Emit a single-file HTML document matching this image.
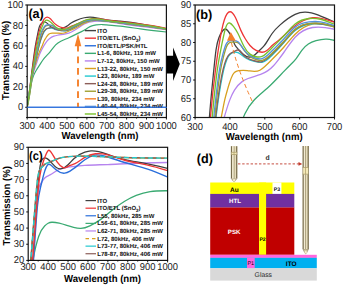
<!DOCTYPE html>
<html><head><meta charset="utf-8"><style>
html,body{margin:0;padding:0;background:#fff;}
body{width:343px;height:285px;overflow:hidden;position:relative;font-family:"Liberation Sans", sans-serif;}
</style></head><body>
<svg width="343" height="285" viewBox="0 0 343 285" style="position:absolute;left:0;top:0" text-rendering="geometricPrecision" font-family='"Liberation Sans", sans-serif'>
<rect width="343" height="285" fill="#fff"/>
<defs>
<clipPath id="ca"><rect x="27.20" y="5.00" width="139.20" height="112.50"/></clipPath>
<clipPath id="cb"><rect x="195.10" y="5.00" width="139.40" height="112.50"/></clipPath>
<clipPath id="cc"><rect x="28.20" y="147.30" width="139.40" height="113.10"/></clipPath>
<linearGradient id="pg" x1="0" x2="1" y1="0" y2="0"><stop offset="0" stop-color="#7a6e4e"/><stop offset="0.25" stop-color="#d8ccA0"/><stop offset="0.45" stop-color="#f4ecd0"/><stop offset="0.55" stop-color="#8a7e5c"/><stop offset="0.7" stop-color="#efe6c8"/><stop offset="1" stop-color="#7a6e4e"/></linearGradient>
</defs>
<g clip-path="url(#ca)">
<path d="M27.20 107.27 H166.40" fill="none" stroke="#2a6edb" stroke-width="1.20" stroke-linejoin="round" stroke-linecap="round" />
<path d="M27.20 106.25 C27.86 102.11 28.53 97.98 29.19 92.95 C29.85 87.93 30.51 82.02 31.18 76.59 C31.84 71.16 32.50 66.20 33.17 61.25 C33.89 55.80 34.62 50.37 35.35 45.91 C36.19 40.76 37.04 36.92 37.88 32.92 C38.30 30.94 38.71 28.91 39.13 27.50 C39.66 25.70 40.19 24.89 40.72 24.23 C41.39 23.40 42.05 22.82 42.71 22.39 C43.24 22.04 43.77 21.79 44.30 21.77 C44.90 21.75 45.49 22.03 46.09 22.39 C46.69 22.74 47.28 23.19 47.88 23.82 C48.54 24.52 49.21 25.46 49.87 26.07 C50.47 26.62 51.06 26.89 51.66 27.19 C52.79 27.76 53.91 28.39 55.04 28.83 C56.23 29.29 57.43 29.53 58.62 29.44 C59.28 29.40 59.95 29.25 60.61 29.03 C61.80 28.65 62.99 28.04 64.19 27.50 C64.96 27.15 65.74 26.83 66.51 26.38 C68.06 25.47 69.60 24.05 71.15 23.00 C72.67 21.96 74.20 21.29 75.72 20.65 C78.57 19.45 81.42 18.39 84.27 17.78 C86.13 17.39 87.98 17.18 89.84 17.17 C92.43 17.15 95.01 17.50 97.60 17.99 C100.45 18.53 103.30 19.24 106.15 19.73 C110.85 20.54 115.56 20.74 120.27 21.16 C126.96 21.75 133.65 22.78 140.35 23.92 C149.03 25.40 157.72 27.06 166.40 28.73" fill="none" stroke="#404040" stroke-width="1.20" stroke-linejoin="round" stroke-linecap="round" />
<path d="M27.20 106.25 C27.86 101.97 28.53 97.69 29.19 92.95 C29.92 87.74 30.65 81.97 31.38 76.59 C32.11 71.21 32.83 66.23 33.56 61.25 C34.36 55.82 35.15 50.38 35.95 45.91 C36.91 40.50 37.87 36.49 38.83 32.92 C39.50 30.43 40.17 28.16 40.84 26.17 C41.85 23.18 42.86 20.82 43.86 19.32 C44.94 17.72 46.01 17.08 47.09 17.07 C48.08 17.06 49.07 17.58 50.07 18.50 C51.13 19.49 52.19 20.93 53.25 22.08 C54.11 23.01 54.97 23.75 55.84 24.43 C56.73 25.14 57.63 25.78 58.52 26.27 C59.68 26.91 60.84 27.30 62.00 27.60 C63.13 27.90 64.25 28.11 65.38 28.11 C66.24 28.12 67.10 27.99 67.97 27.70 C69.03 27.35 70.09 26.75 71.15 26.27 C72.41 25.71 73.67 25.32 74.93 24.84 C77.58 23.83 80.23 22.42 82.88 21.36 C84.87 20.57 86.86 19.98 88.85 19.52 C90.64 19.11 92.43 18.81 94.21 18.70 C98.19 18.47 102.17 19.21 106.15 19.83 C112.97 20.89 119.80 21.61 126.63 22.39 C133.26 23.14 139.89 23.96 146.51 24.94 C153.14 25.93 159.77 27.07 166.40 28.22" fill="none" stroke="#ee3535" stroke-width="1.20" stroke-linejoin="round" stroke-linecap="round" />
<path d="M27.20 106.25 C28.00 102.97 28.79 99.69 29.59 95.00 C30.25 91.09 30.91 86.19 31.57 82.73 C32.24 79.26 32.90 77.23 33.56 75.57 C34.43 73.41 35.29 71.89 36.15 70.45 C37.61 68.02 39.07 65.83 40.52 63.60 C41.65 61.88 42.78 60.15 43.90 58.69 C45.89 56.12 47.88 54.41 49.87 52.05 C51.79 49.76 53.71 46.87 55.64 44.89 C57.36 43.11 59.08 42.07 60.81 41.20 C63.33 39.93 65.84 39.02 68.36 37.93 C71.68 36.50 74.99 34.76 78.31 33.12 C79.37 32.60 80.43 32.09 81.49 31.59 C82.61 31.06 83.74 30.56 84.87 29.85 C86.06 29.10 87.25 28.13 88.45 27.40 C89.57 26.70 90.70 26.22 91.83 25.86 C93.29 25.40 94.75 25.15 96.20 24.94 C98.26 24.66 100.31 24.48 102.37 24.53 C103.69 24.57 105.02 24.71 106.35 24.84 C110.99 25.30 115.63 25.65 120.27 26.17 C126.96 26.92 133.65 28.00 140.35 28.93 C149.03 30.13 157.72 31.07 166.40 32.00" fill="none" stroke="#3aaa72" stroke-width="1.20" stroke-linejoin="round" stroke-linecap="round" />
<path d="M27.20 106.25 C27.86 102.62 28.53 98.98 29.19 95.00 C30.12 89.43 31.04 83.17 31.97 78.64 C33.17 72.81 34.36 69.82 35.55 66.36 C36.94 62.33 38.34 57.66 39.73 54.09 C41.09 50.61 42.45 48.18 43.80 45.91 C44.87 44.12 45.94 42.43 47.01 41.10 C47.89 39.99 48.78 39.14 49.67 38.44 C51.06 37.36 52.45 36.68 53.85 36.19 C55.04 35.78 56.23 35.50 57.43 35.27 C59.81 34.82 62.20 34.58 64.59 34.15 C65.98 33.90 67.37 33.58 68.76 33.12 C69.82 32.77 70.88 32.34 71.94 31.80 C72.94 31.29 73.93 30.68 74.93 30.06 C75.92 29.43 76.91 28.79 77.91 28.11 C80.03 26.68 82.15 25.13 84.27 24.02 C87.59 22.29 90.90 21.62 94.21 21.36 C98.19 21.06 102.17 21.36 106.15 21.77 C110.85 22.27 115.56 22.93 120.27 23.61 C126.96 24.58 133.65 25.59 140.35 26.48 C149.03 27.63 157.72 28.59 166.40 29.55" fill="none" stroke="#b684ee" stroke-width="1.20" stroke-linejoin="round" stroke-linecap="round" />
<path d="M27.20 106.25 C27.86 102.80 28.53 99.35 29.19 95.00 C29.98 89.78 30.78 83.25 31.57 78.64 C32.64 72.48 33.70 69.72 34.76 66.36 C36.02 62.38 37.28 57.55 38.53 54.09 C39.73 50.81 40.92 48.76 42.11 45.91 C42.78 44.33 43.44 42.50 44.10 41.10 C44.60 40.05 45.10 39.25 45.59 38.44 C45.96 37.85 46.32 37.26 46.69 36.70 C47.35 35.70 48.01 34.82 48.68 34.25 C49.80 33.28 50.93 33.18 52.06 33.12 C53.71 33.04 55.37 33.03 57.03 33.12 C59.41 33.26 61.80 33.63 64.19 33.02 C65.12 32.79 66.04 32.41 66.97 32.00 C68.36 31.39 69.76 30.72 71.15 30.06 C73.40 28.98 75.65 27.91 77.91 26.68 C80.03 25.52 82.15 24.22 84.27 23.20 C87.59 21.61 90.90 20.72 94.21 20.44 C98.19 20.11 102.17 20.67 106.15 21.16 C112.97 22.00 119.80 22.63 126.63 23.41 C133.26 24.16 139.89 25.06 146.51 25.97 C153.14 26.88 159.77 27.80 166.40 28.73" fill="none" stroke="#d8a020" stroke-width="1.20" stroke-linejoin="round" stroke-linecap="round" />
<path d="M27.20 106.25 C27.86 102.24 28.53 98.23 29.19 93.98 C30.12 88.02 31.04 81.59 31.97 76.59 C33.17 70.17 34.36 66.13 35.55 61.25 C36.75 56.37 37.94 50.64 39.13 45.91 C40.32 41.17 41.52 37.43 42.71 34.66 C43.84 32.05 44.96 30.31 46.09 29.34 C47.28 28.32 48.48 28.16 49.67 28.11 C50.33 28.09 51.00 28.10 51.66 28.22 C52.79 28.42 53.91 28.93 55.04 29.34 C56.20 29.76 57.36 30.07 58.52 30.26 C59.68 30.46 60.84 30.54 62.00 30.67 C63.13 30.80 64.25 30.96 65.38 30.88 C67.30 30.73 69.23 29.86 71.15 28.93 C73.40 27.85 75.65 26.69 77.91 25.45 C80.03 24.29 82.15 23.04 84.27 22.18 C87.59 20.84 90.90 20.42 94.21 20.34 C98.19 20.24 102.17 20.61 106.15 21.06 C112.97 21.82 119.80 22.81 126.63 23.72 C133.26 24.59 139.89 25.38 146.51 26.27 C153.14 27.16 159.77 28.15 166.40 29.14" fill="none" stroke="#22c8d0" stroke-width="1.20" stroke-linejoin="round" stroke-linecap="round" />
<path d="M27.20 106.25 C27.86 102.23 28.53 98.21 29.19 93.98 C30.12 88.05 31.04 81.69 31.97 76.59 C33.10 70.40 34.23 66.06 35.35 61.25 C36.53 56.22 37.71 50.67 38.89 45.91 C40.03 41.30 41.17 37.42 42.31 34.66 C43.57 31.60 44.83 29.91 46.09 29.03 C47.35 28.16 48.61 28.11 49.87 27.81 C50.47 27.66 51.06 27.47 51.66 27.50 C52.79 27.57 53.91 28.47 55.04 29.03 C56.20 29.62 57.36 29.85 58.52 30.06 C59.68 30.26 60.84 30.43 62.00 30.57 C63.13 30.70 64.25 30.80 65.38 30.67 C67.30 30.44 69.23 29.54 71.15 28.62 C73.40 27.55 75.65 26.47 77.91 25.25 C80.03 24.10 82.15 22.83 84.27 21.98 C87.59 20.64 90.90 20.30 94.21 20.24 C98.19 20.17 102.17 20.50 106.15 20.95 C112.97 21.74 119.80 22.89 126.63 23.82 C133.26 24.72 139.89 25.40 146.51 26.27 C153.14 27.14 159.77 28.19 166.40 29.24" fill="none" stroke="#8c5e58" stroke-width="1.20" stroke-linejoin="round" stroke-linecap="round" />
<path d="M27.70 106.25 C28.36 102.47 29.02 98.70 29.69 94.39 C30.55 88.78 31.41 82.28 32.27 77.00 C33.27 70.91 34.26 66.46 35.25 61.66 C36.29 56.67 37.32 51.30 38.36 46.32 C39.43 41.15 40.50 36.41 41.58 33.33 C42.25 31.39 42.93 30.12 43.61 28.93 C44.18 27.92 44.76 26.97 45.34 26.38 C46.42 25.25 47.50 25.36 48.58 25.35 C49.77 25.34 50.96 25.20 52.16 25.66 C53.28 26.09 54.41 27.07 55.54 27.81 C56.70 28.57 57.86 29.08 59.02 29.44 C60.18 29.80 61.34 30.01 62.50 30.16 C63.62 30.31 64.75 30.41 65.88 30.26 C67.80 30.01 69.72 29.04 71.64 28.11 C73.90 27.03 76.15 26.02 78.41 24.84 C80.53 23.73 82.65 22.47 84.77 21.67 C87.42 20.67 90.07 20.39 92.72 20.24 C94.91 20.12 97.10 20.09 99.29 20.24 C101.74 20.41 104.19 20.80 106.64 21.16 C113.47 22.17 120.30 22.99 127.13 23.82 C133.75 24.62 140.38 25.44 147.01 26.38 C153.64 27.31 160.27 28.38 166.90 29.44" fill="none" stroke="#a0a030" stroke-width="1.20" stroke-linejoin="round" stroke-linecap="round" />
<path d="M27.20 106.25 C27.86 102.31 28.53 98.36 29.19 93.98 C30.05 88.28 30.91 81.84 31.77 76.59 C32.77 70.53 33.76 66.06 34.76 61.25 C35.79 56.25 36.82 50.88 37.86 45.91 C38.93 40.74 40.01 36.00 41.08 32.92 C41.76 30.98 42.43 29.71 43.11 28.52 C43.69 27.51 44.26 26.56 44.84 25.97 C45.92 24.85 47.00 24.95 48.08 24.94 C49.27 24.94 50.47 24.79 51.66 25.25 C52.79 25.68 53.91 26.66 55.04 27.40 C56.20 28.16 57.36 28.67 58.52 29.03 C59.68 29.39 60.84 29.60 62.00 29.75 C63.13 29.90 64.25 30.00 65.38 29.85 C67.30 29.60 69.23 28.63 71.15 27.70 C73.40 26.62 75.65 25.61 77.91 24.43 C80.03 23.32 82.15 22.06 84.27 21.26 C86.92 20.26 89.57 19.98 92.23 19.83 C94.41 19.71 96.60 19.68 98.79 19.83 C101.24 20.00 103.69 20.39 106.15 20.75 C112.97 21.76 119.80 22.58 126.63 23.41 C133.26 24.21 139.89 25.03 146.51 25.97 C153.14 26.91 159.77 27.97 166.40 29.03" fill="none" stroke="#5591dc" stroke-width="1.20" stroke-linejoin="round" stroke-linecap="round" />
<path d="M27.20 106.25 C27.86 102.39 28.53 98.54 29.19 93.98 C29.98 88.51 30.78 82.03 31.57 76.59 C32.44 70.70 33.30 66.05 34.16 61.25 C35.09 56.09 36.02 50.76 36.94 45.91 C37.92 40.81 38.89 36.24 39.87 32.92 C40.70 30.08 41.54 28.15 42.37 26.17 C43.15 24.33 43.92 22.44 44.70 21.36 C45.43 20.36 46.16 20.07 46.89 20.14 C47.62 20.20 48.35 20.60 49.07 21.06 C49.94 21.59 50.80 22.20 51.66 23.00 C52.79 24.05 53.91 25.45 55.04 26.48 C56.20 27.53 57.36 28.20 58.52 28.62 C59.68 29.05 60.84 29.24 62.00 29.34 C63.13 29.44 64.25 29.45 65.38 29.24 C67.30 28.87 69.23 27.84 71.15 26.89 C73.40 25.77 75.65 24.78 77.91 23.61 C80.03 22.52 82.15 21.27 84.27 20.44 C86.92 19.41 89.57 19.04 92.23 18.91 C94.41 18.80 96.60 18.87 98.79 19.11 C101.24 19.39 103.69 19.91 106.15 20.34 C112.97 21.55 119.80 22.16 126.63 22.90 C133.26 23.62 139.89 24.46 146.51 25.45 C153.14 26.45 159.77 27.59 166.40 28.73" fill="none" stroke="#78c02c" stroke-width="1.20" stroke-linejoin="round" stroke-linecap="round" />
</g>
<line x1="78.00" y1="44.8" x2="78.00" y2="107.1" stroke="#f5802a" stroke-width="1.9" stroke-dasharray="6.8 4.8"/>
<polygon points="74.7,46.2 81.3,46.2 78,33.8" fill="#f5802a"/>
<rect x="27.20" y="5.00" width="139.20" height="112.50" fill="none" stroke="#151515" stroke-width="1.2"/>
<line x1="27.20" y1="117.50" x2="27.20" y2="119.50" stroke="#000" stroke-width="0.9"/>
<line x1="47.09" y1="117.50" x2="47.09" y2="119.50" stroke="#000" stroke-width="0.9"/>
<line x1="66.97" y1="117.50" x2="66.97" y2="119.50" stroke="#000" stroke-width="0.9"/>
<line x1="86.86" y1="117.50" x2="86.86" y2="119.50" stroke="#000" stroke-width="0.9"/>
<line x1="106.74" y1="117.50" x2="106.74" y2="119.50" stroke="#000" stroke-width="0.9"/>
<line x1="126.63" y1="117.50" x2="126.63" y2="119.50" stroke="#000" stroke-width="0.9"/>
<line x1="146.51" y1="117.50" x2="146.51" y2="119.50" stroke="#000" stroke-width="0.9"/>
<line x1="166.40" y1="117.50" x2="166.40" y2="119.50" stroke="#000" stroke-width="0.9"/>
<line x1="37.14" y1="117.50" x2="37.14" y2="118.70" stroke="#000" stroke-width="0.8"/>
<line x1="57.03" y1="117.50" x2="57.03" y2="118.70" stroke="#000" stroke-width="0.8"/>
<line x1="76.91" y1="117.50" x2="76.91" y2="118.70" stroke="#000" stroke-width="0.8"/>
<line x1="96.80" y1="117.50" x2="96.80" y2="118.70" stroke="#000" stroke-width="0.8"/>
<line x1="116.69" y1="117.50" x2="116.69" y2="118.70" stroke="#000" stroke-width="0.8"/>
<line x1="136.57" y1="117.50" x2="136.57" y2="118.70" stroke="#000" stroke-width="0.8"/>
<line x1="156.46" y1="117.50" x2="156.46" y2="118.70" stroke="#000" stroke-width="0.8"/>
<line x1="25.20" y1="107.27" x2="27.20" y2="107.27" stroke="#000" stroke-width="0.9"/>
<line x1="25.20" y1="86.82" x2="27.20" y2="86.82" stroke="#000" stroke-width="0.9"/>
<line x1="25.20" y1="66.36" x2="27.20" y2="66.36" stroke="#000" stroke-width="0.9"/>
<line x1="25.20" y1="45.91" x2="27.20" y2="45.91" stroke="#000" stroke-width="0.9"/>
<line x1="25.20" y1="25.45" x2="27.20" y2="25.45" stroke="#000" stroke-width="0.9"/>
<line x1="25.20" y1="5.00" x2="27.20" y2="5.00" stroke="#000" stroke-width="0.9"/>
<line x1="26.00" y1="117.50" x2="27.20" y2="117.50" stroke="#000" stroke-width="0.8"/>
<line x1="26.00" y1="97.05" x2="27.20" y2="97.05" stroke="#000" stroke-width="0.8"/>
<line x1="26.00" y1="76.59" x2="27.20" y2="76.59" stroke="#000" stroke-width="0.8"/>
<line x1="26.00" y1="56.14" x2="27.20" y2="56.14" stroke="#000" stroke-width="0.8"/>
<line x1="26.00" y1="35.68" x2="27.20" y2="35.68" stroke="#000" stroke-width="0.8"/>
<line x1="26.00" y1="15.23" x2="27.20" y2="15.23" stroke="#000" stroke-width="0.8"/>
<text transform="translate(27.20 129.10) scale(0.950 1)" font-size="9.90" text-anchor="middle" font-weight="normal" fill="#1a1a1a">300</text>
<text transform="translate(47.09 129.10) scale(0.950 1)" font-size="9.90" text-anchor="middle" font-weight="normal" fill="#1a1a1a">400</text>
<text transform="translate(66.97 129.10) scale(0.950 1)" font-size="9.90" text-anchor="middle" font-weight="normal" fill="#1a1a1a">500</text>
<text transform="translate(86.86 129.10) scale(0.950 1)" font-size="9.90" text-anchor="middle" font-weight="normal" fill="#1a1a1a">600</text>
<text transform="translate(106.74 129.10) scale(0.950 1)" font-size="9.90" text-anchor="middle" font-weight="normal" fill="#1a1a1a">700</text>
<text transform="translate(126.63 129.10) scale(0.950 1)" font-size="9.90" text-anchor="middle" font-weight="normal" fill="#1a1a1a">800</text>
<text transform="translate(146.51 129.10) scale(0.950 1)" font-size="9.90" text-anchor="middle" font-weight="normal" fill="#1a1a1a">900</text>
<text transform="translate(166.40 129.10) scale(0.950 1)" font-size="9.90" text-anchor="middle" font-weight="normal" fill="#1a1a1a">1000</text>
<text transform="translate(23.20 110.34) scale(0.950 1)" font-size="9.90" text-anchor="end" font-weight="normal" fill="#1a1a1a">0</text>
<text transform="translate(23.20 89.89) scale(0.950 1)" font-size="9.90" text-anchor="end" font-weight="normal" fill="#1a1a1a">20</text>
<text transform="translate(23.20 69.43) scale(0.950 1)" font-size="9.90" text-anchor="end" font-weight="normal" fill="#1a1a1a">40</text>
<text transform="translate(23.20 48.98) scale(0.950 1)" font-size="9.90" text-anchor="end" font-weight="normal" fill="#1a1a1a">60</text>
<text transform="translate(23.20 28.52) scale(0.950 1)" font-size="9.90" text-anchor="end" font-weight="normal" fill="#1a1a1a">80</text>
<text transform="translate(23.20 8.07) scale(0.950 1)" font-size="9.90" text-anchor="end" font-weight="normal" fill="#1a1a1a">100</text>
<text transform="translate(28.40 17.60) scale(0.970 1)" font-size="13.00" text-anchor="start" font-weight="bold" fill="#000">(a)</text>
<text transform="translate(100.00 138.50) scale(0.950 1)" font-size="10.10" text-anchor="middle" font-weight="bold" fill="#000">Wavelength (nm)</text>
<text transform="translate(9.00 60.40) rotate(-90) scale(0.950 1)" font-size="10.10" text-anchor="middle" font-weight="bold" fill="#000">Transmission (%)</text>
<line x1="84.8" y1="30.60" x2="96" y2="30.60" stroke="#404040" stroke-width="1.4"/>
<text x="97.3" y="32.60" font-size="6" font-weight="bold" fill="#111">ITO</text>
<line x1="84.8" y1="38.18" x2="96" y2="38.18" stroke="#ee3535" stroke-width="1.4"/>
<text x="97.3" y="40.18" font-size="6" font-weight="bold" fill="#111">ITO/ETL (SnO<tspan font-size="4.5" dy="1.5">2</tspan><tspan dy="-1.5">)</tspan></text>
<line x1="84.8" y1="45.76" x2="96" y2="45.76" stroke="#2a6edb" stroke-width="1.4"/>
<text x="97.3" y="47.76" font-size="6" font-weight="bold" fill="#111">ITO/ETL/PSK/HTL</text>
<line x1="84.8" y1="53.34" x2="96" y2="53.34" stroke="#3aaa72" stroke-width="1.4"/>
<text x="97.3" y="55.34" font-size="6" font-weight="bold" fill="#111">L1-6, 80kHz, 119 mW</text>
<line x1="84.8" y1="60.92" x2="96" y2="60.92" stroke="#b684ee" stroke-width="1.4"/>
<text x="97.3" y="62.92" font-size="6" font-weight="bold" fill="#111">L7-12, 80kHz, 150 mW</text>
<line x1="84.8" y1="68.50" x2="96" y2="68.50" stroke="#d8a020" stroke-width="1.4"/>
<text x="97.3" y="70.50" font-size="6" font-weight="bold" fill="#111">L13-22, 80kHz, 150 mW</text>
<line x1="84.8" y1="76.08" x2="96" y2="76.08" stroke="#22c8d0" stroke-width="1.4"/>
<text x="97.3" y="78.08" font-size="6" font-weight="bold" fill="#111">L23, 80kHz, 189 mW</text>
<line x1="84.8" y1="83.66" x2="96" y2="83.66" stroke="#8c5e58" stroke-width="1.4"/>
<text x="97.3" y="85.66" font-size="6" font-weight="bold" fill="#111">L24-28, 80kHz, 189 mW</text>
<line x1="84.8" y1="91.24" x2="96" y2="91.24" stroke="#a0a030" stroke-width="1.4"/>
<text x="97.3" y="93.24" font-size="6" font-weight="bold" fill="#111">L29-38, 80kHz, 189 mW</text>
<line x1="84.8" y1="98.82" x2="96" y2="98.82" stroke="#f5802a" stroke-width="1.4"/>
<text x="97.3" y="100.82" font-size="6" font-weight="bold" fill="#111">L39, 80kHz, 234 mW</text>
<line x1="84.8" y1="106.40" x2="96" y2="106.40" stroke="#5591dc" stroke-width="1.4"/>
<text x="97.3" y="108.40" font-size="6" font-weight="bold" fill="#111">L40-44, 80kHz, 234 mW</text>
<line x1="84.8" y1="113.98" x2="96" y2="113.98" stroke="#78c02c" stroke-width="1.4"/>
<text x="97.3" y="115.98" font-size="6" font-weight="bold" fill="#111">L45-54, 80kHz, 234 mW</text>
<path d="M27.20 107.27 H166.40" fill="none" stroke="#2a6edb" stroke-width="1.20" stroke-linejoin="round" stroke-linecap="round" />
<polygon points="166.6,55.8 173.1,55.8 173.1,47.5 179.8,64.1 173.1,80.9 173.1,73.4 166.6,73.4" fill="#000"/>
<g clip-path="url(#cb)">
<path d="M195.10 338.75 C196.26 323.58 197.42 308.42 198.59 290.00 C199.75 271.58 200.91 249.92 202.07 230.00 C203.23 210.08 204.39 191.90 205.56 173.75 C206.83 153.78 208.11 133.85 209.39 117.50 C210.86 98.63 212.34 84.54 213.81 69.87 C214.55 62.60 215.28 55.19 216.01 50.00 C216.94 43.41 217.87 40.42 218.80 38.00 C219.96 34.97 221.12 32.84 222.28 31.25 C223.21 29.98 224.14 29.06 225.07 29.00 C226.12 28.93 227.16 29.94 228.21 31.25 C229.25 32.56 230.30 34.18 231.34 36.50 C232.51 39.08 233.67 42.52 234.83 44.75 C235.87 46.76 236.92 47.78 237.97 48.88 C239.94 50.95 241.92 53.28 243.89 54.87 C245.98 56.57 248.07 57.44 250.16 57.13 C251.32 56.95 252.49 56.41 253.65 55.62 C255.74 54.21 257.83 51.98 259.92 50.00 C261.28 48.71 262.64 47.54 264.00 45.88 C266.71 42.57 269.41 37.35 272.12 33.50 C274.79 29.70 277.46 27.22 280.13 24.87 C285.13 20.50 290.12 16.60 295.12 14.38 C298.37 12.92 301.62 12.18 304.88 12.13 C309.41 12.05 313.94 13.33 318.47 15.13 C323.46 17.10 328.46 19.71 333.45 21.50 C341.70 24.46 349.95 25.21 358.20 26.75 C369.93 28.93 381.66 32.70 393.40 36.88 C408.61 42.29 423.83 48.40 439.05 54.50" fill="none" stroke="#404040" stroke-width="1.30" stroke-linejoin="round" stroke-linecap="round" />
<path d="M195.10 338.75 C196.26 323.06 197.42 307.38 198.59 290.00 C199.86 270.88 201.14 249.72 202.42 230.00 C203.70 210.28 204.97 192.01 206.25 173.75 C207.65 153.83 209.04 133.91 210.43 117.50 C212.12 97.67 213.80 82.97 215.49 69.87 C216.66 60.76 217.83 52.42 219.01 45.13 C220.77 34.14 222.54 25.51 224.30 20.00 C226.19 14.13 228.07 11.80 229.95 11.75 C231.69 11.70 233.44 13.61 235.18 17.00 C237.04 20.61 238.89 25.91 240.75 30.12 C242.26 33.55 243.77 36.26 245.28 38.75 C246.85 41.34 248.42 43.69 249.99 45.50 C252.02 47.84 254.05 49.26 256.09 50.37 C258.06 51.46 260.04 52.24 262.01 52.25 C263.52 52.26 265.03 51.80 266.54 50.75 C268.40 49.45 270.26 47.25 272.12 45.50 C274.33 43.43 276.53 42.01 278.74 40.25 C283.39 36.55 288.03 31.37 292.68 27.50 C296.16 24.60 299.65 22.43 303.13 20.75 C306.27 19.24 309.41 18.14 312.54 17.75 C319.51 16.89 326.48 19.60 333.45 21.88 C345.42 25.78 357.38 28.39 369.35 31.25 C380.97 34.02 392.58 37.02 404.20 40.62 C415.82 44.23 427.43 48.43 439.05 52.63" fill="none" stroke="#ee3535" stroke-width="1.30" stroke-linejoin="round" stroke-linecap="round" />
<path d="M195.10 338.75 C196.49 326.73 197.89 314.71 199.28 297.50 C200.44 283.16 201.61 265.21 202.77 252.50 C203.93 239.79 205.09 232.33 206.25 226.25 C207.76 218.34 209.27 212.77 210.78 207.50 C213.34 198.58 215.89 190.53 218.45 182.38 C220.42 176.08 222.40 169.72 224.37 164.38 C227.86 154.94 231.34 148.67 234.83 140.00 C238.20 131.62 241.57 121.01 244.94 113.75 C247.96 107.24 250.98 103.44 254.00 100.25 C258.41 95.59 262.83 92.24 267.24 88.25 C273.05 83.00 278.86 76.63 284.66 70.62 C286.52 68.70 288.38 66.82 290.24 65.00 C292.22 63.07 294.19 61.21 296.16 58.62 C298.26 55.88 300.35 52.32 302.44 49.63 C304.41 47.08 306.39 45.31 308.36 44.00 C310.92 42.30 313.47 41.37 316.03 40.62 C319.63 39.58 323.23 38.91 326.83 39.12 C329.16 39.26 331.48 39.77 333.80 40.25 C341.93 41.92 350.07 43.22 358.20 45.13 C369.93 47.87 381.66 51.85 393.40 55.25 C408.61 59.66 423.83 63.08 439.05 66.50" fill="none" stroke="#3aaa72" stroke-width="1.30" stroke-linejoin="round" stroke-linecap="round" />
<path d="M195.10 338.75 C196.26 325.42 197.42 312.10 198.59 297.50 C200.21 277.06 201.84 254.13 203.46 237.50 C205.56 216.12 207.65 205.17 209.74 192.50 C212.18 177.71 214.62 160.58 217.06 147.50 C219.44 134.73 221.82 125.84 224.20 117.50 C226.07 110.95 227.94 104.76 229.81 99.87 C231.37 95.81 232.92 92.66 234.48 90.13 C236.92 86.14 239.36 83.66 241.80 81.88 C243.89 80.34 245.98 79.33 248.07 78.50 C252.25 76.84 256.44 75.95 260.62 74.38 C263.06 73.46 265.50 72.31 267.94 70.62 C269.80 69.34 271.65 67.74 273.51 65.75 C275.25 63.88 277.00 61.67 278.74 59.37 C280.48 57.08 282.23 54.71 283.97 52.25 C287.68 47.00 291.40 41.32 295.12 37.25 C300.93 30.89 306.74 28.43 312.54 27.50 C319.51 26.38 326.48 27.47 333.45 29.00 C341.70 30.81 349.95 33.25 358.20 35.75 C369.93 39.31 381.66 42.99 393.40 46.25 C408.61 50.48 423.83 53.99 439.05 57.50" fill="none" stroke="#b684ee" stroke-width="1.30" stroke-linejoin="round" stroke-linecap="round" />
<path d="M195.10 338.75 C196.26 326.10 197.42 313.46 198.59 297.50 C199.98 278.35 201.37 254.43 202.77 237.50 C204.63 214.93 206.48 204.81 208.34 192.50 C210.55 177.88 212.76 160.19 214.96 147.50 C217.06 135.48 219.15 127.95 221.24 117.50 C222.40 111.70 223.56 105.00 224.72 99.87 C225.59 96.03 226.47 93.08 227.34 90.13 C227.98 87.95 228.61 85.78 229.25 83.75 C230.41 80.06 231.58 76.85 232.74 74.75 C234.71 71.18 236.69 70.84 238.66 70.62 C241.57 70.31 244.47 70.27 247.38 70.62 C251.56 71.14 255.74 72.46 259.92 70.25 C261.55 69.39 263.17 67.99 264.80 66.50 C267.24 64.26 269.68 61.81 272.12 59.37 C276.07 55.43 280.02 51.51 283.97 47.00 C287.68 42.75 291.40 37.98 295.12 34.25 C300.93 28.42 306.74 25.14 312.54 24.12 C319.51 22.91 326.48 24.96 333.45 26.75 C345.42 29.83 357.38 32.15 369.35 35.00 C380.97 37.77 392.58 41.04 404.20 44.38 C415.82 47.71 427.43 51.10 439.05 54.50" fill="none" stroke="#d8a020" stroke-width="1.30" stroke-linejoin="round" stroke-linecap="round" />
<path d="M195.10 338.75 C196.26 324.05 197.42 309.35 198.59 293.75 C200.21 271.91 201.84 248.31 203.46 230.00 C205.56 206.45 207.65 191.65 209.74 173.75 C211.83 155.85 213.92 134.86 216.01 117.50 C218.10 100.14 220.19 86.40 222.28 76.25 C224.26 66.67 226.23 60.29 228.21 56.75 C230.30 53.00 232.39 52.42 234.48 52.25 C235.64 52.16 236.80 52.19 237.97 52.63 C239.94 53.36 241.92 55.25 243.89 56.75 C245.92 58.29 247.96 59.41 249.99 60.13 C252.02 60.84 254.05 61.15 256.09 61.62 C258.06 62.08 260.04 62.69 262.01 62.37 C265.38 61.84 268.75 58.64 272.12 55.25 C276.07 51.28 280.02 47.05 283.97 42.50 C287.68 38.22 291.40 33.66 295.12 30.50 C300.93 25.57 306.74 24.06 312.54 23.75 C319.51 23.38 326.48 24.74 333.45 26.38 C345.42 29.19 357.38 32.82 369.35 36.12 C380.97 39.34 392.58 42.24 404.20 45.50 C415.82 48.76 427.43 52.38 439.05 56.00" fill="none" stroke="#22c8d0" stroke-width="1.30" stroke-linejoin="round" stroke-linecap="round" />
<path d="M195.10 338.75 C196.26 324.02 197.42 309.28 198.59 293.75 C200.21 272.01 201.84 248.70 203.46 230.00 C205.44 207.29 207.41 191.37 209.39 173.75 C211.46 155.30 213.52 134.97 215.59 117.50 C217.59 100.62 219.59 86.39 221.59 76.25 C223.79 65.05 226.00 58.83 228.21 55.62 C230.41 52.42 232.62 52.23 234.83 51.12 C235.87 50.60 236.92 49.87 237.97 50.00 C239.94 50.24 241.92 53.54 243.89 55.62 C245.92 57.77 247.96 58.63 249.99 59.37 C252.02 60.12 254.05 60.75 256.09 61.25 C258.06 61.74 260.04 62.11 262.01 61.62 C265.38 60.80 268.75 57.48 272.12 54.12 C276.07 50.19 280.02 46.22 283.97 41.75 C287.68 37.54 291.40 32.89 295.12 29.75 C300.93 24.84 306.74 23.59 312.54 23.38 C319.51 23.11 326.48 24.33 333.45 26.00 C345.42 28.87 357.38 33.10 369.35 36.50 C380.97 39.80 392.58 42.32 404.20 45.50 C415.82 48.68 427.43 52.53 439.05 56.38" fill="none" stroke="#8c5e58" stroke-width="1.30" stroke-linejoin="round" stroke-linecap="round" />
<path d="M195.97 338.75 C197.13 324.90 198.29 311.06 199.46 295.25 C200.97 274.70 202.48 250.85 203.99 231.50 C205.73 209.18 207.47 192.85 209.21 175.25 C211.03 156.94 212.84 137.25 214.65 119.00 C216.53 100.05 218.41 82.65 220.30 71.38 C221.48 64.27 222.67 59.60 223.85 55.25 C224.86 51.54 225.87 48.07 226.88 45.88 C228.78 41.77 230.67 42.15 232.56 42.13 C234.65 42.10 236.75 41.56 238.84 43.25 C240.81 44.84 242.79 48.41 244.76 51.13 C246.79 53.92 248.83 55.81 250.86 57.13 C252.89 58.44 254.93 59.19 256.96 59.75 C258.93 60.30 260.91 60.67 262.88 60.13 C266.25 59.20 269.62 55.63 272.99 52.25 C276.94 48.28 280.89 44.58 284.84 40.25 C288.56 36.18 292.27 31.56 295.99 28.63 C300.64 24.96 305.28 23.91 309.93 23.38 C313.76 22.93 317.60 22.83 321.43 23.38 C325.73 23.99 330.03 25.42 334.33 26.75 C346.29 30.47 358.26 33.46 370.22 36.50 C381.84 39.45 393.45 42.43 405.07 45.88 C416.69 49.32 428.30 53.22 439.92 57.13" fill="none" stroke="#a0a030" stroke-width="1.30" stroke-linejoin="round" stroke-linecap="round" />
<path d="M195.10 338.75 C196.26 324.29 197.42 309.82 198.59 293.75 C200.10 272.86 201.61 249.25 203.12 230.00 C204.86 207.79 206.60 191.38 208.34 173.75 C210.16 155.41 211.97 135.74 213.78 117.50 C215.66 98.56 217.54 81.15 219.43 69.87 C220.61 62.77 221.80 58.10 222.98 53.75 C223.99 50.04 225.00 46.57 226.01 44.38 C227.91 40.27 229.80 40.65 231.69 40.62 C233.78 40.60 235.87 40.06 237.97 41.75 C239.94 43.34 241.92 46.91 243.89 49.63 C245.92 52.42 247.96 54.31 249.99 55.62 C252.02 56.94 254.05 57.69 256.09 58.25 C258.06 58.80 260.04 59.17 262.01 58.62 C265.38 57.70 268.75 54.13 272.12 50.75 C276.07 46.78 280.02 43.08 283.97 38.75 C287.68 34.68 291.40 30.06 295.12 27.13 C299.77 23.46 304.41 22.41 309.06 21.88 C312.89 21.43 316.73 21.33 320.56 21.88 C324.86 22.49 329.16 23.92 333.45 25.25 C345.42 28.97 357.38 31.96 369.35 35.00 C380.97 37.95 392.58 40.93 404.20 44.38 C415.82 47.82 427.43 51.72 439.05 55.62" fill="none" stroke="#5591dc" stroke-width="1.30" stroke-linejoin="round" stroke-linecap="round" />
<path d="M195.10 338.75 C196.26 324.61 197.42 310.47 198.59 293.75 C199.98 273.69 201.37 249.93 202.77 230.00 C204.28 208.41 205.79 191.33 207.30 173.75 C208.92 154.81 210.55 135.29 212.18 117.50 C213.88 98.82 215.59 82.04 217.30 69.87 C218.76 59.44 220.23 52.40 221.69 45.13 C223.05 38.37 224.41 31.43 225.77 27.50 C227.05 23.80 228.32 22.77 229.60 23.00 C230.88 23.23 232.16 24.71 233.44 26.38 C234.95 28.34 236.46 30.55 237.97 33.50 C239.94 37.36 241.92 42.48 243.89 46.25 C245.92 50.13 247.96 52.56 249.99 54.12 C252.02 55.69 254.05 56.38 256.09 56.75 C258.06 57.11 260.04 57.16 262.01 56.38 C265.38 55.03 268.75 51.23 272.12 47.75 C276.07 43.67 280.02 40.02 283.97 35.75 C287.68 31.73 291.40 27.15 295.12 24.12 C299.77 20.34 304.41 18.97 309.06 18.50 C312.89 18.11 316.73 18.34 320.56 19.25 C324.86 20.27 329.16 22.15 333.45 23.75 C345.42 28.19 357.38 30.41 369.35 33.12 C380.97 35.76 392.58 38.86 404.20 42.50 C415.82 46.14 427.43 50.32 439.05 54.50" fill="none" stroke="#78c02c" stroke-width="1.30" stroke-linejoin="round" stroke-linecap="round" />
</g>
<path d="M231.5 43 Q237.8 71 253.5 104" fill="none" stroke="#f5802a" stroke-width="1.0" stroke-dasharray="4.2 3"/>
<polygon points="227,40.8 235.8,40.8 230.8,32" fill="#f5802a"/>
<rect x="195.10" y="5.00" width="139.40" height="112.50" fill="none" stroke="#151515" stroke-width="1.2"/>
<line x1="195.10" y1="117.50" x2="195.10" y2="119.50" stroke="#000" stroke-width="0.9"/>
<line x1="229.95" y1="117.50" x2="229.95" y2="119.50" stroke="#000" stroke-width="0.9"/>
<line x1="264.80" y1="117.50" x2="264.80" y2="119.50" stroke="#000" stroke-width="0.9"/>
<line x1="299.65" y1="117.50" x2="299.65" y2="119.50" stroke="#000" stroke-width="0.9"/>
<line x1="334.50" y1="117.50" x2="334.50" y2="119.50" stroke="#000" stroke-width="0.9"/>
<line x1="193.10" y1="117.50" x2="195.10" y2="117.50" stroke="#000" stroke-width="0.9"/>
<line x1="193.10" y1="98.75" x2="195.10" y2="98.75" stroke="#000" stroke-width="0.9"/>
<line x1="193.10" y1="80.00" x2="195.10" y2="80.00" stroke="#000" stroke-width="0.9"/>
<line x1="193.10" y1="61.25" x2="195.10" y2="61.25" stroke="#000" stroke-width="0.9"/>
<line x1="193.10" y1="42.50" x2="195.10" y2="42.50" stroke="#000" stroke-width="0.9"/>
<line x1="193.10" y1="23.75" x2="195.10" y2="23.75" stroke="#000" stroke-width="0.9"/>
<line x1="193.10" y1="5.00" x2="195.10" y2="5.00" stroke="#000" stroke-width="0.9"/>
<text transform="translate(195.10 129.50) scale(0.950 1)" font-size="9.90" text-anchor="middle" font-weight="normal" fill="#1a1a1a">300</text>
<text transform="translate(229.95 129.50) scale(0.950 1)" font-size="9.90" text-anchor="middle" font-weight="normal" fill="#1a1a1a">400</text>
<text transform="translate(264.80 129.50) scale(0.950 1)" font-size="9.90" text-anchor="middle" font-weight="normal" fill="#1a1a1a">500</text>
<text transform="translate(299.65 129.50) scale(0.950 1)" font-size="9.90" text-anchor="middle" font-weight="normal" fill="#1a1a1a">600</text>
<text transform="translate(334.50 129.50) scale(0.950 1)" font-size="9.90" text-anchor="middle" font-weight="normal" fill="#1a1a1a">700</text>
<text transform="translate(191.10 120.57) scale(0.950 1)" font-size="9.90" text-anchor="end" font-weight="normal" fill="#1a1a1a">60</text>
<text transform="translate(191.10 101.82) scale(0.950 1)" font-size="9.90" text-anchor="end" font-weight="normal" fill="#1a1a1a">65</text>
<text transform="translate(191.10 83.07) scale(0.950 1)" font-size="9.90" text-anchor="end" font-weight="normal" fill="#1a1a1a">70</text>
<text transform="translate(191.10 64.32) scale(0.950 1)" font-size="9.90" text-anchor="end" font-weight="normal" fill="#1a1a1a">75</text>
<text transform="translate(191.10 45.57) scale(0.950 1)" font-size="9.90" text-anchor="end" font-weight="normal" fill="#1a1a1a">80</text>
<text transform="translate(191.10 26.82) scale(0.950 1)" font-size="9.90" text-anchor="end" font-weight="normal" fill="#1a1a1a">85</text>
<text transform="translate(191.10 8.07) scale(0.950 1)" font-size="9.90" text-anchor="end" font-weight="normal" fill="#1a1a1a">90</text>
<text transform="translate(196.00 18.60) scale(0.980 1)" font-size="13.00" text-anchor="start" font-weight="bold" fill="#000">(b)</text>
<text transform="translate(264.20 140.00) scale(0.950 1)" font-size="10.10" text-anchor="middle" font-weight="bold" fill="#000">Wavelength (nm)</text>
<g clip-path="url(#cc)">
<path d="M30.19 279.79 C31.12 272.89 32.05 266.00 32.98 260.40 C33.91 254.80 34.84 250.50 35.77 246.67 C36.76 242.56 37.76 238.98 38.75 236.16 C40.71 230.62 42.67 227.98 44.63 225.99 C45.79 224.80 46.95 223.84 48.11 223.24 C49.38 222.58 50.64 222.34 51.90 222.27 C54.32 222.13 56.74 222.64 59.17 223.24 C61.46 223.81 63.75 224.47 66.04 225.18 C68.56 225.96 71.08 226.79 73.60 227.44 C76.03 228.07 78.46 228.54 80.89 228.41 C83.89 228.25 86.88 227.20 89.87 225.82 C93.74 224.05 97.61 221.75 101.48 218.88 C105.33 216.02 109.18 212.59 113.03 209.50 C116.92 206.39 120.81 203.62 124.70 201.26 C128.55 198.93 132.40 197.00 136.25 195.45 C140.89 193.58 145.53 192.27 150.18 191.57 C155.23 190.81 160.28 190.77 165.33 190.76 C166.09 190.76 166.84 190.76 167.60 190.76" fill="none" stroke="#3aaa72" stroke-width="1.30" stroke-linejoin="round" stroke-linecap="round" />
<path d="M31.78 276.56 C33.05 260.64 34.31 244.72 35.57 224.85 C36.27 213.88 36.96 201.69 37.66 194.96 C37.96 192.08 38.26 190.20 38.56 188.82 C39.15 186.08 39.75 185.39 40.35 184.46 C40.91 183.59 41.48 182.51 42.04 181.55 C43.04 179.87 44.03 178.58 45.03 177.68 C46.69 176.17 48.35 175.75 50.01 174.93 C52.23 173.83 54.45 172.03 56.68 170.73 C60.53 168.48 64.38 167.76 68.23 167.17 C73.78 166.32 79.33 165.75 84.88 165.40 C92.54 164.91 100.20 164.87 107.86 164.59 C113.50 164.38 119.14 164.05 124.78 163.78 C139.06 163.09 153.33 162.79 167.60 162.49" fill="none" stroke="#b684ee" stroke-width="1.40" stroke-linejoin="round" stroke-linecap="round" />
<path d="M31.78 284.64 C32.71 271.28 33.64 257.93 34.57 244.24 C35.57 229.58 36.56 214.53 37.56 204.98 C38.59 195.11 39.62 191.12 40.65 186.88 C41.71 182.52 42.77 177.89 43.83 174.12 C45.39 168.58 46.95 164.88 48.51 164.27 C49.38 163.92 50.24 164.53 51.10 165.23 C52.96 166.76 54.82 168.75 56.68 170.24 C59.37 172.40 62.07 173.50 64.76 173.15 C66.52 172.92 68.27 172.08 70.02 171.05 C71.68 170.07 73.34 168.93 75.00 167.66 C78.29 165.14 81.58 162.13 84.88 159.74 C87.89 157.55 90.90 155.89 93.92 155.22 C98.56 154.18 103.21 155.52 107.86 156.99 C113.50 158.79 119.14 160.79 124.78 162.49 C132.42 164.79 140.05 166.55 147.69 169.11 C154.32 171.34 160.96 174.19 167.60 177.03" fill="none" stroke="#2a6edb" stroke-width="1.40" stroke-linejoin="round" stroke-linecap="round" />
<path d="M28.20 291.10 C28.86 284.56 29.53 278.03 30.19 270.09 C30.86 262.16 31.52 252.82 32.18 244.24 C32.85 235.67 33.51 227.85 34.17 220.01 C34.90 211.38 35.63 202.73 36.36 195.77 C37.21 187.74 38.05 181.96 38.89 175.25 C39.31 171.93 39.73 168.37 40.15 165.88 C40.68 162.72 41.21 161.26 41.74 160.23 C42.67 158.41 43.60 157.88 44.53 157.80 C45.39 157.73 46.26 158.06 47.12 158.61 C48.35 159.40 49.57 160.65 50.80 162.00 C52.76 164.16 54.72 166.58 56.68 167.82 C58.60 169.04 60.53 169.12 62.45 168.47 C64.31 167.83 66.17 166.51 68.03 164.75 C70.06 162.82 72.09 160.37 74.12 158.45 C77.71 155.06 81.29 153.33 84.88 152.15 C86.89 151.48 88.91 151.00 90.93 150.85 C93.52 150.67 96.11 151.06 98.70 151.66 C101.75 152.37 104.80 153.39 107.86 154.41 C113.50 156.30 119.14 158.23 124.78 159.58 C130.36 160.91 135.94 161.67 141.51 162.65 C150.21 164.18 158.90 166.24 167.60 168.30" fill="none" stroke="#404040" stroke-width="1.30" stroke-linejoin="round" stroke-linecap="round" />
<path d="M30.59 284.64 C31.45 274.15 32.32 263.66 33.18 252.32 C34.37 236.62 35.57 219.30 36.76 204.98 C37.79 192.65 38.82 182.54 39.85 175.74 C41.18 166.96 42.51 163.69 43.83 160.06 C45.39 155.80 46.95 151.03 48.51 150.37 C49.71 149.86 50.90 151.76 52.10 153.76 C53.76 156.54 55.42 159.52 57.08 161.84 C58.87 164.35 60.66 166.11 62.45 167.17 C62.98 167.49 63.51 167.75 64.05 167.82 C65.37 168.01 66.70 167.06 68.03 166.37 C70.35 165.15 72.68 164.70 75.00 163.62 C78.29 162.08 81.58 159.27 84.88 157.32 C88.35 155.26 91.83 154.15 95.31 153.76 C99.49 153.29 103.68 153.85 107.86 154.89 C113.50 156.30 119.14 158.60 124.78 160.23 C132.42 162.42 140.05 163.39 147.69 165.07 C154.32 166.54 160.96 168.55 167.60 170.57" fill="none" stroke="#ee3535" stroke-width="1.40" stroke-linejoin="round" stroke-linecap="round" />
<path d="M29.20 284.64 C30.06 271.88 30.92 259.13 31.78 247.47 C32.91 232.24 34.04 218.89 35.17 204.98 C35.97 195.17 36.76 185.07 37.56 178.97 C38.59 171.08 39.62 169.85 40.65 168.63 C42.11 166.89 43.57 165.16 45.03 164.10 C46.69 162.91 48.35 162.58 50.01 162.00 C52.23 161.23 54.45 159.99 56.68 159.09 C60.53 157.54 64.38 157.00 68.23 156.67 C73.78 156.19 79.33 156.13 84.88 156.19 C98.18 156.31 111.48 157.05 124.78 157.48 C139.06 157.94 153.33 158.03 167.60 158.13" fill="none" stroke="#d8a020" stroke-width="1.30" stroke-linejoin="round" stroke-linecap="round" />
<path d="M29.20 284.64 C30.06 271.88 30.92 259.13 31.78 247.47 C32.91 232.24 34.04 218.89 35.17 204.98 C35.97 195.17 36.76 185.07 37.56 178.97 C38.59 171.08 39.62 169.85 40.65 168.63 C42.11 166.89 43.57 165.16 45.03 164.10 C46.69 162.91 48.35 162.58 50.01 162.00 C52.23 161.23 54.45 159.99 56.68 159.09 C60.53 157.54 64.38 157.00 68.23 156.67 C73.78 156.19 79.33 156.13 84.88 156.19 C98.18 156.31 111.48 157.05 124.78 157.48 C139.06 157.94 153.33 158.03 167.60 158.13" fill="none" stroke="#8c5e58" stroke-width="1.40" stroke-linejoin="round" stroke-linecap="round" stroke-dasharray="4 4" stroke-dashoffset="0"/>
<path d="M29.20 284.64 C30.06 271.88 30.92 259.13 31.78 247.47 C32.91 232.24 34.04 218.89 35.17 204.98 C35.97 195.17 36.76 185.07 37.56 178.97 C38.59 171.08 39.62 169.85 40.65 168.63 C42.11 166.89 43.57 165.16 45.03 164.10 C46.69 162.91 48.35 162.58 50.01 162.00 C52.23 161.23 54.45 159.99 56.68 159.09 C60.53 157.54 64.38 157.00 68.23 156.67 C73.78 156.19 79.33 156.13 84.88 156.19 C98.18 156.31 111.48 157.05 124.78 157.48 C139.06 157.94 153.33 158.03 167.60 158.13" fill="none" stroke="#22c8d0" stroke-width="1.40" stroke-linejoin="round" stroke-linecap="round" stroke-dasharray="4 4" stroke-dashoffset="4"/>
</g>
<rect x="28.20" y="147.30" width="139.40" height="113.10" fill="none" stroke="#151515" stroke-width="1.2"/>
<line x1="28.20" y1="260.40" x2="28.20" y2="262.40" stroke="#000" stroke-width="0.9"/>
<line x1="48.11" y1="260.40" x2="48.11" y2="262.40" stroke="#000" stroke-width="0.9"/>
<line x1="68.03" y1="260.40" x2="68.03" y2="262.40" stroke="#000" stroke-width="0.9"/>
<line x1="87.94" y1="260.40" x2="87.94" y2="262.40" stroke="#000" stroke-width="0.9"/>
<line x1="107.86" y1="260.40" x2="107.86" y2="262.40" stroke="#000" stroke-width="0.9"/>
<line x1="127.77" y1="260.40" x2="127.77" y2="262.40" stroke="#000" stroke-width="0.9"/>
<line x1="147.69" y1="260.40" x2="147.69" y2="262.40" stroke="#000" stroke-width="0.9"/>
<line x1="167.60" y1="260.40" x2="167.60" y2="262.40" stroke="#000" stroke-width="0.9"/>
<line x1="38.16" y1="260.40" x2="38.16" y2="261.60" stroke="#000" stroke-width="0.8"/>
<line x1="58.07" y1="260.40" x2="58.07" y2="261.60" stroke="#000" stroke-width="0.8"/>
<line x1="77.99" y1="260.40" x2="77.99" y2="261.60" stroke="#000" stroke-width="0.8"/>
<line x1="97.90" y1="260.40" x2="97.90" y2="261.60" stroke="#000" stroke-width="0.8"/>
<line x1="117.81" y1="260.40" x2="117.81" y2="261.60" stroke="#000" stroke-width="0.8"/>
<line x1="137.73" y1="260.40" x2="137.73" y2="261.60" stroke="#000" stroke-width="0.8"/>
<line x1="157.64" y1="260.40" x2="157.64" y2="261.60" stroke="#000" stroke-width="0.8"/>
<line x1="26.20" y1="260.40" x2="28.20" y2="260.40" stroke="#000" stroke-width="0.9"/>
<line x1="26.20" y1="244.24" x2="28.20" y2="244.24" stroke="#000" stroke-width="0.9"/>
<line x1="26.20" y1="228.09" x2="28.20" y2="228.09" stroke="#000" stroke-width="0.9"/>
<line x1="26.20" y1="211.93" x2="28.20" y2="211.93" stroke="#000" stroke-width="0.9"/>
<line x1="26.20" y1="195.77" x2="28.20" y2="195.77" stroke="#000" stroke-width="0.9"/>
<line x1="26.20" y1="179.61" x2="28.20" y2="179.61" stroke="#000" stroke-width="0.9"/>
<line x1="26.20" y1="163.46" x2="28.20" y2="163.46" stroke="#000" stroke-width="0.9"/>
<line x1="26.20" y1="147.30" x2="28.20" y2="147.30" stroke="#000" stroke-width="0.9"/>
<text transform="translate(28.20 270.40) scale(0.950 1)" font-size="9.90" text-anchor="middle" font-weight="normal" fill="#1a1a1a">300</text>
<text transform="translate(48.11 270.40) scale(0.950 1)" font-size="9.90" text-anchor="middle" font-weight="normal" fill="#1a1a1a">400</text>
<text transform="translate(68.03 270.40) scale(0.950 1)" font-size="9.90" text-anchor="middle" font-weight="normal" fill="#1a1a1a">500</text>
<text transform="translate(87.94 270.40) scale(0.950 1)" font-size="9.90" text-anchor="middle" font-weight="normal" fill="#1a1a1a">600</text>
<text transform="translate(107.86 270.40) scale(0.950 1)" font-size="9.90" text-anchor="middle" font-weight="normal" fill="#1a1a1a">700</text>
<text transform="translate(127.77 270.40) scale(0.950 1)" font-size="9.90" text-anchor="middle" font-weight="normal" fill="#1a1a1a">800</text>
<text transform="translate(147.69 270.40) scale(0.950 1)" font-size="9.90" text-anchor="middle" font-weight="normal" fill="#1a1a1a">900</text>
<text transform="translate(167.60 270.40) scale(0.950 1)" font-size="9.90" text-anchor="middle" font-weight="normal" fill="#1a1a1a">1000</text>
<text transform="translate(24.20 263.47) scale(0.950 1)" font-size="9.90" text-anchor="end" font-weight="normal" fill="#1a1a1a">20</text>
<text transform="translate(24.20 247.31) scale(0.950 1)" font-size="9.90" text-anchor="end" font-weight="normal" fill="#1a1a1a">30</text>
<text transform="translate(24.20 231.15) scale(0.950 1)" font-size="9.90" text-anchor="end" font-weight="normal" fill="#1a1a1a">40</text>
<text transform="translate(24.20 215.00) scale(0.950 1)" font-size="9.90" text-anchor="end" font-weight="normal" fill="#1a1a1a">50</text>
<text transform="translate(24.20 198.84) scale(0.950 1)" font-size="9.90" text-anchor="end" font-weight="normal" fill="#1a1a1a">60</text>
<text transform="translate(24.20 182.68) scale(0.950 1)" font-size="9.90" text-anchor="end" font-weight="normal" fill="#1a1a1a">70</text>
<text transform="translate(24.20 166.53) scale(0.950 1)" font-size="9.90" text-anchor="end" font-weight="normal" fill="#1a1a1a">80</text>
<text transform="translate(24.20 150.37) scale(0.950 1)" font-size="9.90" text-anchor="end" font-weight="normal" fill="#1a1a1a">90</text>
<text transform="translate(29.00 160.20) scale(0.900 1)" font-size="12.40" text-anchor="start" font-weight="bold" fill="#000">(c)</text>
<text transform="translate(102.50 282.00) scale(0.950 1)" font-size="10.10" text-anchor="middle" font-weight="bold" fill="#000">Wavelength (nm)</text>
<text transform="translate(10.00 205.80) rotate(-90) scale(0.950 1)" font-size="10.10" text-anchor="middle" font-weight="bold" fill="#000">Transmission (%)</text>
<line x1="85.5" y1="200.60" x2="96" y2="200.60" stroke="#404040" stroke-width="1.2" />
<text x="97.3" y="202.60" font-size="6" font-weight="bold" fill="#111">ITO</text>
<line x1="85.5" y1="208.19" x2="96" y2="208.19" stroke="#ee3535" stroke-width="1.2" />
<text x="97.3" y="210.19" font-size="6" font-weight="bold" fill="#111">ITO/ETL (SnO<tspan font-size="4.5" dy="1.5">2</tspan><tspan dy="-1.5">)</tspan></text>
<line x1="85.5" y1="215.78" x2="96" y2="215.78" stroke="#2a6edb" stroke-width="1.2" />
<text x="97.3" y="217.78" font-size="6" font-weight="bold" fill="#111">L55, 80kHz, 285 mW</text>
<line x1="85.5" y1="223.37" x2="96" y2="223.37" stroke="#3aaa72" stroke-width="1.2" />
<text x="97.3" y="225.37" font-size="6" font-weight="bold" fill="#111">L56-61, 80kHz, 285 mW</text>
<line x1="85.5" y1="230.96" x2="96" y2="230.96" stroke="#b684ee" stroke-width="1.2" />
<text x="97.3" y="232.96" font-size="6" font-weight="bold" fill="#111">L62-71, 80kHz, 285 mW</text>
<line x1="85.5" y1="238.55" x2="96" y2="238.55" stroke="#d8a020" stroke-width="1.2" stroke-dasharray="3.5 3"/>
<text x="97.3" y="240.55" font-size="6" font-weight="bold" fill="#111">L72, 80kHz, 406 mW</text>
<line x1="85.5" y1="246.14" x2="96" y2="246.14" stroke="#22c8d0" stroke-width="1.2" />
<text x="97.3" y="248.14" font-size="6" font-weight="bold" fill="#111">L73-77, 80kHz, 406 mW</text>
<line x1="85.5" y1="253.73" x2="96" y2="253.73" stroke="#8c5e58" stroke-width="1.2" />
<text x="97.3" y="255.73" font-size="6" font-weight="bold" fill="#111">L78-87, 80kHz, 406 mW</text>
<text x="196.8" y="162.6" font-size="13" font-weight="bold" transform="translate(196.8 0) scale(0.97 1) translate(-196.8 0)">(d)</text>
<rect x="210.2" y="182.5" width="84.1" height="11.5" fill="#ffff00"/>
<rect x="272.5" y="182.5" width="8.9" height="11.5" fill="#fff"/>
<rect x="210.2" y="193.9" width="84.1" height="13.7" fill="#7030a0"/>
<rect x="210.2" y="207.5" width="84.1" height="47.3" fill="#c00000"/>
<rect x="259" y="182.5" width="7.1" height="72.3" fill="#ffff00"/>
<rect x="210.2" y="254.8" width="106.6" height="3.1" fill="#ff66dd"/>
<rect x="210.2" y="257.8" width="106.6" height="10.5" fill="#00b0f0"/>
<rect x="247" y="257.8" width="7.7" height="10.5" fill="#ff66dd"/>
<rect x="210.2" y="268.3" width="106.6" height="12.3" fill="#d9d9d9"/>
<text x="234.40" y="191.80" font-size="6.50" font-weight="bold" fill="#000" text-anchor="middle">Au</text>
<text x="235.00" y="203.30" font-size="6.20" font-weight="bold" fill="#fff" text-anchor="middle">HTL</text>
<text x="234.20" y="234.20" font-size="6.20" font-weight="bold" fill="#fff" text-anchor="middle">PSK</text>
<text x="262.60" y="241.20" font-size="5.20" font-weight="bold" fill="#000" text-anchor="middle">P2</text>
<text x="277.00" y="190.80" font-size="5.20" font-weight="bold" fill="#000" text-anchor="middle">P3</text>
<text x="250.80" y="265.30" font-size="5.40" font-weight="normal" fill="#000" text-anchor="middle">P1</text>
<text x="291.20" y="265.60" font-size="6.50" font-weight="bold" fill="#000" text-anchor="middle">ITO</text>
<text x="263.30" y="276.60" font-size="6.80" font-weight="normal" fill="#2a2a2a" text-anchor="middle">Glass</text>
<text x="267.50" y="159.80" font-size="6.80" font-weight="bold" fill="#333" text-anchor="middle">d</text>
<line x1="238" y1="163.9" x2="299.5" y2="163.9" stroke="#c0392b" stroke-width="0.9" stroke-dasharray="2.4 1.8"/>
<polygon points="298.5,162 302.3,163.9 298.5,165.8" fill="#c0392b"/>
<path d="M231.20 178.40 L233.20 181.10 Q234.10 182.10 234.10 181.90 Q234.10 182.10 235.00 181.10 L237.00 178.40 Z" fill="#cfc49c" stroke="#7a6f50" stroke-width="0.5"/>
<ellipse cx="234.10" cy="180.30" rx="1.1" ry="1.4" fill="#f4ecc8"/>
<rect x="230.90" y="146.20" width="6.40" height="32.20" fill="#e6ddbb"/>
<rect x="230.90" y="146.20" width="1.2" height="32.20" fill="#776c4c"/>
<rect x="236.10" y="146.20" width="1.2" height="32.20" fill="#776c4c"/>
<rect x="233.60" y="146.20" width="0.8" height="32.20" fill="#8f845f"/>
<rect x="232.20" y="146.20" width="1.3" height="32.20" fill="#f2ebd2"/>
<rect x="231.50" y="151.90" width="5.20" height="3.10" fill="#f5eab8"/>
<rect x="230.90" y="151.90" width="6.40" height="0.6" fill="#9a8c5c"/>
<rect x="230.90" y="154.40" width="6.40" height="0.6" fill="#9a8c5c"/>
<rect x="233.65" y="151.90" width="0.7" height="3.10" fill="#a89868"/>
<path d="M302.90 249.00 L304.80 253.00 Q305.70 254.00 305.70 253.80 Q305.70 254.00 306.60 253.00 L308.50 249.00 Z" fill="#cfc49c" stroke="#7a6f50" stroke-width="0.5"/>
<ellipse cx="305.70" cy="252.20" rx="1.1" ry="1.4" fill="#f4ecc8"/>
<rect x="302.60" y="146.00" width="6.20" height="103.00" fill="#e6ddbb"/>
<rect x="302.60" y="146.00" width="1.2" height="103.00" fill="#776c4c"/>
<rect x="307.60" y="146.00" width="1.2" height="103.00" fill="#776c4c"/>
<rect x="305.20" y="146.00" width="0.8" height="103.00" fill="#8f845f"/>
<rect x="303.90" y="146.00" width="1.3" height="103.00" fill="#f2ebd2"/>
<rect x="303.20" y="167.30" width="5.00" height="7.10" fill="#f5eab8"/>
<rect x="302.60" y="167.30" width="6.20" height="0.6" fill="#9a8c5c"/>
<rect x="302.60" y="173.80" width="6.20" height="0.6" fill="#9a8c5c"/>
<rect x="305.25" y="167.30" width="0.7" height="7.10" fill="#a89868"/>
</svg>
</body></html>
